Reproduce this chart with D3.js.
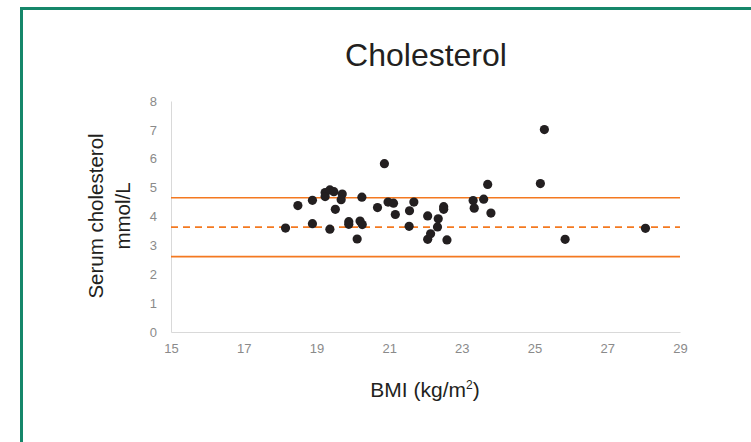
<!DOCTYPE html>
<head>
  <meta charset="utf-8">
  <style>
  body { margin: 0; background: #fff; }
  * { font-family: "Liberation Sans", Arial, Helvetica, sans-serif; }
  .tick text { fill: #8a8a8a; font-size: 13px; }
  .domain { stroke: #d9d9d9; }
  </style>
  <title>Cholesterol</title>
</head>
<body>
  <svg width="751" height="442"></svg>
  <script src="https://d3js.org/d3.v7.min.js"></script>
  <script>
  // BMI (kg/m2) and serum cholesterol (mmol/L)
  var bmi = [18.15, 18.49, 18.89, 18.89, 19.24, 19.24, 19.37, 19.48, 19.37, 19.52,
             19.71, 19.68, 19.89, 19.89, 20.12, 20.20, 20.26, 20.25, 20.68, 20.87,
             20.97, 21.12, 21.17, 21.55, 21.56, 21.68, 22.06, 22.06, 22.14, 22.35,
             22.33, 22.50, 22.50, 22.59, 23.31, 23.34, 23.60, 23.71, 23.80, 25.16,
             25.27, 25.84, 28.05];
  var chol = [3.60, 4.38, 4.56, 3.75, 4.83, 4.69, 4.92, 4.86, 3.56, 4.25,
              4.78, 4.58, 3.82, 3.73, 3.22, 3.84, 3.72, 4.67, 4.31, 5.83,
              4.50, 4.46, 4.07, 3.66, 4.20, 4.50, 4.02, 3.21, 3.40, 3.92,
              3.64, 4.34, 4.25, 3.19, 4.55, 4.29, 4.60, 5.11, 4.12, 5.14,
              7.01, 3.21, 3.59];
  // mean and +/- 1 SD lines
  var refValues = [4.65, 3.63, 2.61];
  var refDashed = [false, true, false];
  var xTicks = [15, 17, 19, 21, 23, 25, 27, 29];
  var yTicks = [0, 1, 2, 3, 4, 5, 6, 7, 8];

  var svg = d3.select("svg");

  // green frame, runs off the right and bottom edges
  svg.append("rect")
      .attr("x", 21.5).attr("y", 8.5)
      .attr("width", 900).attr("height", 600)
      .attr("fill", "none")
      .attr("stroke", "#15876a")
      .attr("stroke-width", 3);

  var x = d3.scaleLinear().domain([15, 29]).range([171, 680]);
  var y = d3.scaleLinear().domain([0, 8]).range([332, 101]);

  svg.append("g")
      .attr("transform", "translate(0,332)")
      .call(d3.axisBottom(x).tickValues(xTicks).tickSize(0).tickPadding(12))
      .call(function(g) { g.select(".domain").attr("stroke", "#d9d9d9"); });

  svg.append("g")
      .attr("transform", "translate(171,0)")
      .call(d3.axisLeft(y).tickValues(yTicks).tickSize(0).tickPadding(14))
      .call(function(g) { g.select(".domain").attr("stroke", "#d9d9d9"); });

  svg.selectAll(".ref")
      .data(refValues)
      .enter().append("line")
        .attr("class", "ref")
        .attr("x1", x(15)).attr("x2", x(29))
        .attr("y1", function(d) { return y(d); })
        .attr("y2", function(d) { return y(d); })
        .attr("stroke", "#f47920")
        .attr("stroke-width", 1.7)
        .attr("stroke-dasharray", function(d, i) { return refDashed[i] ? "7,5" : null; });

  svg.append("g")
    .selectAll("circle")
    .data(bmi)
    .enter().append("circle")
      .attr("cx", function(d) { return x(d); })
      .attr("cy", function(d, i) { return y(chol[i]); })
      .attr("r", 4.6)
      .attr("fill", "#231f20");

  svg.append("text")
      .attr("x", 426).attr("y", 66)
      .attr("text-anchor", "middle")
      .attr("fill", "#231f20")
      .style("font-size", "32px")
      .text("Cholesterol");

  var yt = svg.append("text")
      .attr("transform", "translate(103,216) rotate(-90)")
      .attr("text-anchor", "middle")
      .attr("fill", "#231f20")
      .style("font-size", "20.5px");
  yt.append("tspan").attr("x", 0).attr("dy", 0).text("Serum cholesterol");
  yt.append("tspan").attr("x", 0).attr("dy", 27).text("mmol/L");

  var xt = svg.append("text")
      .attr("x", 425).attr("y", 397)
      .attr("text-anchor", "middle")
      .attr("fill", "#231f20")
      .style("font-size", "21px");
  xt.append("tspan").text("BMI (kg/m");
  xt.append("tspan").attr("dy", -8).style("font-size", "12px").text("2");
  xt.append("tspan").attr("dy", 8).text(")");
  </script>
</body>
